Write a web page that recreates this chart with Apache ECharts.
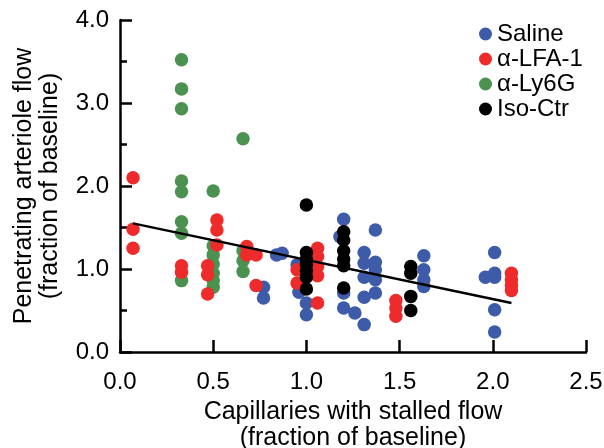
<!DOCTYPE html>
<html>
<head>
<meta charset="utf-8">
<script src="https://cdn.jsdelivr.net/npm/echarts@6/dist/echarts.min.js"></script>
<style>
  html, body { margin: 0; padding: 0; background: #fff; }
  #chart { width: 604px; height: 448px; }
</style>
</head>
<body>
<div id="chart"></div>
<script>
// Penetrating arteriole flow vs. capillaries with stalled flow, per treatment group
const groupNames = ['Saline', 'α-LFA-1', 'α-Ly6G', 'Iso-Ctr'];
const groupColors = ['#3E5BA9', '#EE2B2B', '#4B9150', '#000000'];

const xTicks = [0.0, 0.5, 1.0, 1.5, 2.0, 2.5];
const yTicks = [0.0, 1.0, 2.0, 3.0, 4.0];

// [stalled capillaries, arteriole flow], both as fractions of baseline
const saline = [
  [0.77, 0.78], [0.77, 0.65], [0.84, 1.17], [0.87, 1.19],
  [0.95, 1.05], [0.96, 0.72], [1.00, 0.59], [1.00, 0.45],
  [1.20, 1.60], [1.18, 1.39], [1.20, 0.71], [1.20, 0.53], [1.26, 0.47],
  [1.31, 1.20], [1.31, 1.07], [1.31, 0.90], [1.31, 0.66], [1.31, 0.33],
  [1.37, 1.47], [1.37, 1.08], [1.37, 0.99], [1.37, 0.87], [1.37, 0.71],
  [1.63, 1.16], [1.63, 0.99], [1.63, 0.87], [1.63, 0.79],
  [2.01, 1.20], [1.96, 0.90], [2.01, 0.95], [2.01, 0.90], [2.01, 0.51], [2.01, 0.24]
];
const lfa1 = [
  [0.07, 2.10], [0.07, 1.48], [0.07, 1.25],
  [0.33, 1.04], [0.33, 0.96],
  [0.47, 1.04], [0.47, 0.93], [0.47, 0.70],
  [0.52, 1.59], [0.52, 1.47], [0.52, 1.29],
  [0.68, 1.27], [0.68, 1.17], [0.73, 1.17], [0.73, 0.80],
  [0.95, 0.99], [0.95, 0.83],
  [1.06, 1.25], [1.06, 1.15], [1.06, 1.03], [1.06, 0.92], [1.06, 0.59],
  [1.48, 0.62], [1.48, 0.53], [1.48, 0.43],
  [2.10, 0.95], [2.10, 0.87], [2.10, 0.80], [2.10, 0.74]
];
const ly6g = [
  [0.33, 3.52], [0.33, 3.17], [0.33, 2.93], [0.33, 2.06], [0.33, 1.93],
  [0.33, 1.57], [0.33, 1.43], [0.33, 0.86],
  [0.50, 1.94], [0.50, 1.28], [0.50, 1.17], [0.50, 1.06], [0.50, 0.95],
  [0.50, 0.86], [0.50, 0.78],
  [0.66, 2.57], [0.66, 1.22], [0.66, 1.10], [0.66, 0.97]
];
const isoCtr = [
  [1.00, 1.77], [1.00, 1.20], [1.00, 1.12], [1.00, 1.05], [1.00, 0.98],
  [1.00, 0.90], [1.00, 0.76],
  [1.20, 1.45], [1.20, 1.35], [1.20, 1.22], [1.20, 1.12], [1.20, 1.04], [1.20, 0.77],
  [1.56, 1.03], [1.56, 0.95], [1.56, 0.67], [1.56, 0.50]
];
// Linear fit endpoints
const fitLine = [[0.07, 1.55], [2.10, 0.59]];

const FONT = '"Liberation Sans", Arial, sans-serif';
const AXIS_W = 2.5;

function scatter(name, data, color) {
  return {
    name: name,
    type: 'scatter',
    data: data,
    symbol: 'circle',
    symbolSize: 13.5,
    itemStyle: { color: color, opacity: 1 },
    emphasis: { disabled: true }
  };
}

const chart = echarts.init(document.getElementById('chart'), null, { renderer: 'canvas' });
chart.setOption({
  animation: false,
  backgroundColor: '#ffffff',
  textStyle: { fontFamily: FONT },
  grid: { left: 120, right: 18, top: 20, bottom: 96, containLabel: false, outerBoundsMode: 'none' },
  legend: {
    data: groupNames.map((n, i) => ({ name: n, itemStyle: { color: groupColors[i] } })),
    orient: 'vertical',
    left: 474,
    top: 17,
    icon: 'circle',
    itemWidth: 13,
    itemHeight: 13,
    itemGap: 1,
    selectedMode: false,
    textStyle: { fontSize: 24, lineHeight: 24, color: '#000', fontFamily: FONT }
  },
  xAxis: {
    type: 'value',
    min: xTicks[0],
    max: xTicks[xTicks.length - 1],
    interval: 0.5,
    name: 'Capillaries with stalled flow\n(fraction of baseline)',
    nameLocation: 'middle',
    nameGap: 45,
    nameTextStyle: { fontSize: 25, lineHeight: 26, color: '#000', fontFamily: FONT },
    axisLine: { show: true, onZero: false, lineStyle: { color: '#000', width: AXIS_W } },
    axisTick: { show: true, inside: true, length: 12, lineStyle: { color: '#000', width: AXIS_W } },
    axisLabel: {
      fontSize: 24, color: '#000', margin: 18, fontFamily: FONT,
      formatter: v => v.toFixed(1)
    },
    splitLine: { show: false }
  },
  yAxis: {
    type: 'value',
    min: yTicks[0],
    max: yTicks[yTicks.length - 1],
    interval: 1,
    name: 'Penetrating arteriole flow\n(fraction of baseline)',
    nameLocation: 'middle',
    nameRotate: 90,
    nameGap: 57,
    nameTextStyle: { fontSize: 25, lineHeight: 26, color: '#000', fontFamily: FONT },
    axisLine: { show: true, onZero: false, lineStyle: { color: '#000', width: AXIS_W } },
    axisTick: { show: true, inside: true, length: 12, lineStyle: { color: '#000', width: AXIS_W } },
    minorTick: { show: true, splitNumber: 2, length: 7, lineStyle: { color: '#000', width: AXIS_W } },
    axisLabel: {
      fontSize: 24, color: '#000', margin: 11, fontFamily: FONT,
      formatter: v => v.toFixed(1)
    },
    splitLine: { show: false },
    minorSplitLine: { show: false }
  },
  series: [
    scatter(groupNames[0], saline, groupColors[0]),
    scatter(groupNames[2], ly6g, groupColors[2]),
    scatter(groupNames[1], lfa1, groupColors[1]),
    scatter(groupNames[3], isoCtr, groupColors[3]),
    {
      name: 'fit',
      type: 'line',
      data: fitLine,
      symbol: 'none',
      lineStyle: { color: '#000', width: 2.5 },
      emphasis: { disabled: true },
      z: 5
    }
  ]
});
</script>
</body>
</html>
